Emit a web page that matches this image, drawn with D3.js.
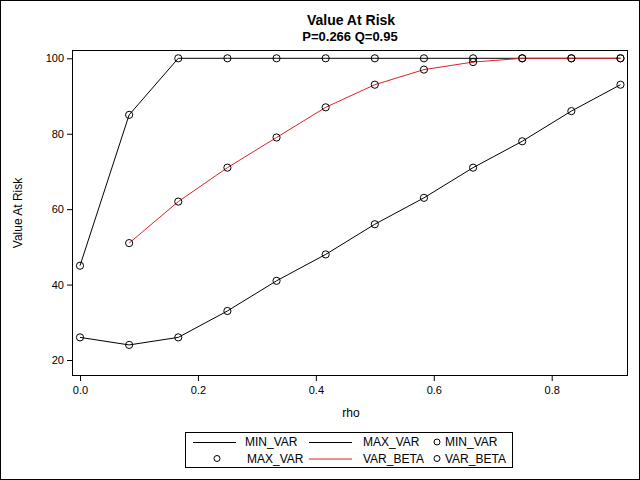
<!DOCTYPE html>
<html>
<head>
<meta charset="utf-8">
<script src="https://cdn.jsdelivr.net/npm/d3@7"></script>
<style>
  body { margin: 0; background: #fff; }
  text { font-family: "Liberation Sans", Arial, sans-serif; }
</style>
</head>
<body>
<div id="chart"></div>
<script>
// data
var rho = [0, 1/12, 2/12, 3/12, 4/12, 5/12, 6/12, 7/12, 8/12, 9/12, 10/12, 11/12];
var minVar = [26, 24, 26, 33, 41, 48, 56, 63, 71, 78, 86, 93];
var maxVar = [45, 85, 100, 100, 100, 100, 100, 100, 100, 100, 100, 100];
var varBeta = [null, 51, 62, 71, 79, 87, 93, 97, 99, 100, 100, 100];
var xTicks = [0, 0.2, 0.4, 0.6, 0.8];
var yTicks = [20, 40, 60, 80, 100];

var W = 640, H = 480;
var plot = { left: 72, top: 50, right: 628, bottom: 376 };

var svg = d3.select("#chart").append("svg")
    .attr("width", W)
    .attr("height", H);

// outer border
svg.append("rect")
    .attr("x", 0.5).attr("y", 0.5)
    .attr("width", W - 1).attr("height", H - 1)
    .attr("fill", "#fff").attr("stroke", "#000");

var x = d3.scaleLinear()
    .domain([-0.01357, 0.9294])
    .range([plot.left, plot.right]);
var y = d3.scaleLinear()
    .domain([15.76, 102.2])
    .range([plot.bottom, plot.top]);

// titles
svg.append("text")
    .attr("x", 351).attr("y", 25)
    .attr("text-anchor", "middle")
    .style("font-size", "14px").style("font-weight", "bold")
    .text("Value At Risk");
svg.append("text")
    .attr("x", 350).attr("y", 41)
    .attr("text-anchor", "middle")
    .style("font-size", "13px").style("font-weight", "bold")
    .text("P=0.266 Q=0.95");

// axes
var xAxis = svg.append("g")
    .attr("transform", "translate(0," + plot.bottom + ")")
    .call(d3.axisBottom(x).tickValues(xTicks).tickFormat(d3.format(".1f")).tickSize(5).tickSizeOuter(0));
var yAxis = svg.append("g")
    .attr("transform", "translate(" + plot.left + ",0)")
    .call(d3.axisLeft(y).tickValues(yTicks).tickSize(5).tickSizeOuter(0));
[xAxis, yAxis].forEach(function (g) {
    g.select(".domain").remove();
    g.selectAll("text").style("font-size", "11px").attr("fill", "#000")
        .style("font-family", "'Liberation Sans', Arial, sans-serif");
    g.selectAll(".tick line").attr("stroke", "#000");
});
xAxis.selectAll("text").attr("dy", "0.9em");

// plot frame
svg.append("rect")
    .attr("x", plot.left + 0.5).attr("y", plot.top + 0.5)
    .attr("width", plot.right - plot.left - 1)
    .attr("height", plot.bottom - plot.top - 1)
    .attr("fill", "none").attr("stroke", "#000");

// axis labels
svg.append("text")
    .attr("x", 351).attr("y", 417)
    .attr("text-anchor", "middle")
    .style("font-size", "12px")
    .text("rho");
svg.append("text")
    .attr("transform", "translate(22," + ((plot.top + plot.bottom) / 2) + ") rotate(-90)")
    .attr("text-anchor", "middle")
    .style("font-size", "12px")
    .text("Value At Risk");

// series
var series = [
    { name: "MIN_VAR", values: minVar, color: "#000" },
    { name: "MAX_VAR", values: maxVar, color: "#000" },
    { name: "VAR_BETA", values: varBeta, color: "#e0202a" }
];

var line = d3.line()
    .defined(function (d) { return d.v != null; })
    .x(function (d) { return x(d.r); })
    .y(function (d) { return y(d.v); });

series.forEach(function (s) {
    var pts = rho.map(function (r, i) { return { r: r, v: s.values[i] }; });
    svg.append("path")
        .datum(pts)
        .attr("fill", "none")
        .attr("stroke", s.color)
        .attr("stroke-width", 1)
        .attr("d", line);
});
series.forEach(function (s) {
    var pts = rho.map(function (r, i) { return { r: r, v: s.values[i] }; })
        .filter(function (d) { return d.v != null; });
    svg.selectAll(null)
        .data(pts)
        .enter()
        .append("circle")
        .attr("cx", function (d) { return x(d.r); })
        .attr("cy", function (d) { return y(d.v); })
        .attr("r", 3.6)
        .attr("fill", "none")
        .attr("stroke", "#000")
        .attr("stroke-width", 1);
});

// legend
var lg = svg.append("g");
lg.append("rect")
    .attr("x", 185.5).attr("y", 432.5)
    .attr("width", 327).attr("height", 35)
    .attr("fill", "#fff").attr("stroke", "#000");

var legendItems = [
    { type: "line", color: "#000", label: "MIN_VAR", lx: 193, tx: 245, row: 0 },
    { type: "line", color: "#000", label: "MAX_VAR", lx: 309, tx: 363, row: 0 },
    { type: "dot", label: "MIN_VAR", lx: 437, tx: 445, row: 0 },
    { type: "dot", label: "MAX_VAR", lx: 217, tx: 247, row: 1 },
    { type: "line", color: "#e0202a", label: "VAR_BETA", lx: 309, tx: 363, row: 1 },
    { type: "dot", label: "VAR_BETA", lx: 437, tx: 445, row: 1 }
];
legendItems.forEach(function (d) {
    var cy = 442 + d.row * 16.5;
    if (d.type === "line") {
        lg.append("line")
            .attr("x1", d.lx).attr("x2", d.lx + 43)
            .attr("y1", cy + 0.5).attr("y2", cy + 0.5)
            .attr("stroke", d.color);
    } else {
        lg.append("circle")
            .attr("cx", d.lx).attr("cy", cy)
            .attr("r", 3).attr("fill", "none").attr("stroke", "#000");
    }
    lg.append("text")
        .attr("x", d.tx).attr("y", cy + 4)
        .style("font-size", "12px")
        .text(d.label);
});
</script>
</body>
</html>
